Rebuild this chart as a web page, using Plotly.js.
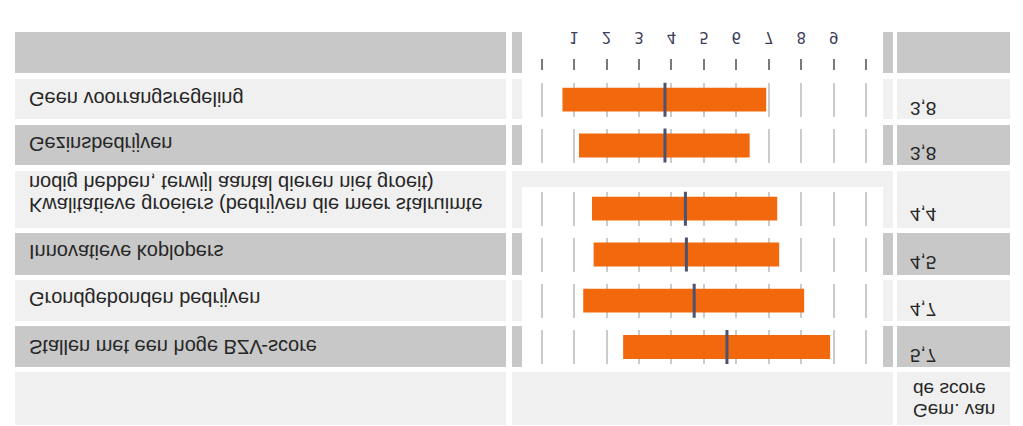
<!DOCTYPE html>
<html>
<head>
<meta charset="utf-8">
<script src="https://cdn.plot.ly/plotly-3.0.1.min.js"></script>
<style>
  html, body { margin: 0; padding: 0; background: #ffffff; }
  /* the reference is mirrored top-to-bottom, so the whole chart is mirrored the same way */
  #chart { width: 1023px; height: 426px; transform: scaleY(-1); transform-origin: 50% 50%; }
</style>
</head>
<body>
<div id="chart"></div>
<script>
// ---------- data ----------
const categories = [
  'Geen voorrangsregeling',
  'Gezinsbedrijven',
  'Kwalitatieve groeiers (bedrijven die meer stalruimte<br>nodig hebben, terwijl aantal dieren niet groeit)',
  'Innovatieve koplopers',
  'Grondgebonden bedrijven',
  'Stallen met een hoge BZV-score'
];
const lowValues  = [0.64, 1.15, 1.55, 1.60, 1.28, 2.51];
const highValues = [6.92, 6.41, 7.26, 7.32, 8.09, 8.89];
const meanValues = [3.80, 3.80, 4.43, 4.46, 4.70, 5.71];
const meanLabels = ['3,8', '3,8', '4,4', '4,5', '4,7', '5,7'];
const tickValues = [0, 1, 2, 3, 4, 5, 6, 7, 8, 9, 10];
const tickLabels = ['', '1', '2', '3', '4', '5', '6', '7', '8', '9', ''];
const meanHeader = 'Gem. van<br>de score';

// ---------- layout helpers (pixel positions in the mirrored picture) ----------
const W = 1023, H = 426;
const px = v => v / W;
const py = v => v / H;
const GRAY = '#c8c8c8', LIGHT = '#f0f0f0', WHITE = '#ffffff';
const ORANGE = '#f2690d', MEANCOL = '#4d5270', GRID = '#cbcbcb';
const TEXTFONT = 'Liberation Sans, Arial, sans-serif';

const rowBands = [
  [32, 73, GRAY], [79, 119, LIGHT], [125, 165, GRAY], [171, 228, LIGHT],
  [233, 275, GRAY], [280, 321, LIGHT], [326, 367, GRAY], [372, 425, LIGHT]
];
const whiteBands = [[32, 73], [79, 119], [125, 165], [187, 228], [233, 275], [280, 321], [326, 367]];
const chartCenters = [99.7, 145.5, 208.7, 254.5, 300.7, 347];
const chartHalf = 17;
const labelCenters = [99, 144.5, 194, 252.5, 299.5, 347.5];
const meanCenters = [109, 153.5, 214, 262.5, 309.5, 356];
const lineStep = 21.5;

const shapes = [];
function rect(x0, x1, y0, y1, color) {
  shapes.push({
    type: 'rect', xref: 'paper', yref: 'paper', layer: 'below',
    x0: px(x0), x1: px(x1), y0: py(y0), y1: py(y1),
    fillcolor: color, line: { width: 0 }
  });
}
rowBands.forEach(([y0, y1, c]) => {
  rect(15, 506, y0, y1, c);
  rect(512, 893, y0, y1, c);
  rect(897, 1010, y0, y1, c);
});
whiteBands.forEach(([y0, y1]) => rect(522, 883, y0, y1, WHITE));

const traces = [];
const annotations = [];
function textBlock(text, x, center, size) {
  // one annotation per line so that the line spacing matches the table's
  const lines = text.split('<br>');
  lines.forEach((line, k) => {
    annotations.push({
      xref: 'paper', yref: 'paper', x: px(x),
      y: py(center + ((lines.length - 1) / 2 - k) * lineStep),
      xanchor: 'left', yanchor: 'middle', align: 'left', showarrow: false,
      text: line, font: { family: TEXTFONT, size: size, color: '#262626' }
    });
  });
}

const layout = {
  width: W, height: H,
  margin: { l: 0, r: 0, t: 0, b: 0, pad: 0 },
  paper_bgcolor: '#ffffff',
  plot_bgcolor: 'rgba(0,0,0,0)',
  showlegend: false,
  shapes: shapes,
  annotations: annotations,
  xaxis: {
    domain: [px(522), px(883)],
    range: [-0.607, 10.52],
    anchor: 'free', position: py(71), side: 'bottom',
    tickmode: 'array', tickvals: tickValues, ticktext: tickLabels,
    ticks: 'outside', ticklen: 11, tickwidth: 2, tickcolor: '#7a7a7a',
    ticklabelstandoff: 9,
    tickfont: { family: 'DejaVu Sans, sans-serif', size: 15, color: '#3d3d5c' },
    showgrid: true, gridcolor: GRID, gridwidth: 2,
    zeroline: true, zerolinecolor: GRID, zerolinewidth: 2,
    showline: false, fixedrange: true
  }
};

categories.forEach((cat, i) => {
  const yname = i === 0 ? 'y' : 'y' + (i + 1);
  const ykey = i === 0 ? 'yaxis' : 'yaxis' + (i + 1);
  layout[ykey] = {
    domain: [py(chartCenters[i] - chartHalf), py(chartCenters[i] + chartHalf)],
    type: 'category', range: [-0.5, 0.5], anchor: 'x',
    visible: false, showgrid: false, zeroline: false, fixedrange: true
  };
  traces.push({
    type: 'bar', orientation: 'h',
    x: [highValues[i] - lowValues[i]], base: [lowValues[i]], y: [cat],
    xaxis: 'x', yaxis: yname, width: 0.7,
    marker: { color: ORANGE, line: { width: 0 } },
    hoverinfo: 'skip'
  });
  traces.push({
    type: 'scatter', mode: 'markers',
    x: [meanValues[i]], y: [cat], xaxis: 'x', yaxis: yname,
    marker: { symbol: 'line-ns', size: 34, color: MEANCOL, line: { width: 3, color: MEANCOL } },
    hoverinfo: 'skip'
  });
  textBlock(cat, 27, labelCenters[i], 20);
  textBlock(meanLabels[i], 908, meanCenters[i], 19);
});
textBlock(meanHeader, 911, 400, 19);

Plotly.newPlot('chart', traces, layout, { displayModeBar: false, staticPlot: true });
</script>
</body>
</html>
